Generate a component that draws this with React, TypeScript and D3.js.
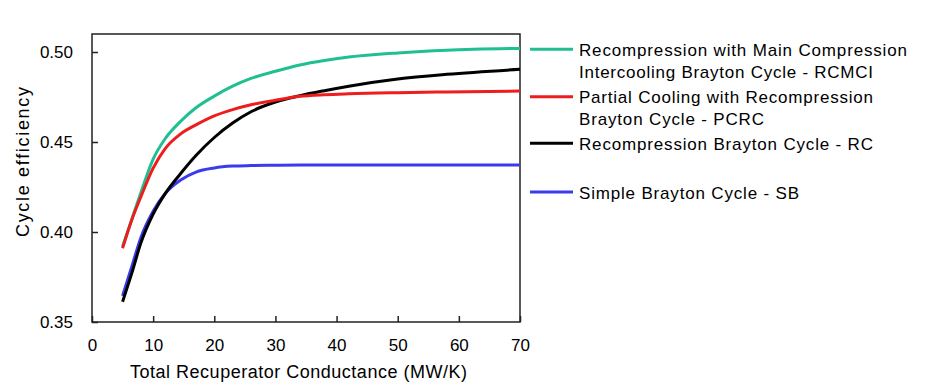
import React, { useRef, useEffect } from "react";
import * as d3 from "d3";

// conductance (MW/K) sample points
const conductance = [5, 6.5, 8, 10, 12, 14.5, 17, 20, 23, 26, 30, 34, 38, 42, 50, 58, 70];

const rcmci = [0.392, 0.407, 0.422, 0.4405, 0.452, 0.4615, 0.469, 0.4755, 0.481, 0.4853, 0.4893, 0.4928, 0.4953, 0.4972, 0.4995, 0.501, 0.502];
const pcrc = [0.391, 0.4067, 0.4196, 0.4355, 0.4465, 0.4545, 0.4595, 0.4645, 0.468, 0.4707, 0.4732, 0.4754, 0.4763, 0.4768, 0.4774, 0.4778, 0.4783];
const rc = [0.3613, 0.377, 0.394, 0.41, 0.4215, 0.4325, 0.4425, 0.4525, 0.4605, 0.4668, 0.4722, 0.4757, 0.4785, 0.481, 0.485, 0.4876, 0.4904];
const sb = [0.3645, 0.3807, 0.397, 0.4115, 0.4215, 0.4289, 0.4333, 0.4356, 0.4366, 0.4369, 0.4371, 0.4372, 0.4372, 0.4372, 0.4372, 0.4372, 0.4372];

const seriesNames = [
  ["Recompression with Main Compression", "Intercooling Brayton Cycle - RCMCI"],
  ["Partial Cooling with Recompression", "Brayton Cycle - PCRC"],
  ["Recompression Brayton Cycle - RC"],
  ["Simple Brayton Cycle - SB"],
];
const seriesValues = [rcmci, pcrc, rc, sb];
const seriesColors = ["#1fbf91", "#ee1c1c", "#000000", "#3b3bee"];

const xTicks = [0, 10, 20, 30, 40, 50, 60, 70];
const yTicks = [0.35, 0.4, 0.45, 0.5];

const App = () => {
  const ref = useRef<SVGSVGElement>(null);

  useEffect(() => {
    const svg = d3.select(ref.current);
    svg.selectAll("*").remove();

    const left = 92, right = 520, top = 34, bottom = 322;
    const x = d3.scaleLinear().domain([0, 70]).range([left, right]);
    const y = d3.scaleLinear().domain([0.35, 0.51]).range([bottom, top]);
    const font = "'Liberation Sans', Arial, sans-serif";

    // frame
    svg.append("rect")
      .attr("x", left).attr("y", top)
      .attr("width", right - left).attr("height", bottom - top)
      .attr("fill", "none").attr("stroke", "#222").attr("stroke-width", 1.5);

    // x axis ticks (inside)
    const xAxis = svg.append("g")
      .attr("transform", `translate(0,${bottom})`)
      .call(d3.axisBottom(x).tickValues(xTicks).tickSizeInner(-6).tickSizeOuter(0).tickPadding(17).tickFormat(d3.format("d")));
    xAxis.select(".domain").remove();
    xAxis.selectAll("line").attr("stroke", "#222").attr("stroke-width", 1.5);
    xAxis.selectAll("text").attr("font-family", font).attr("font-size", 17).attr("fill", "#000");

    const yAxis = svg.append("g")
      .attr("transform", `translate(${left},0)`)
      .call(d3.axisLeft(y).tickValues(yTicks).tickSizeInner(-6).tickSizeOuter(0).tickPadding(19).tickFormat(d3.format(".2f")));
    yAxis.select(".domain").remove();
    yAxis.selectAll("line").attr("stroke", "#222").attr("stroke-width", 1.5);
    yAxis.selectAll("text").attr("font-family", font).attr("font-size", 17).attr("fill", "#000");

    // curves
    const line = d3.line<number>()
      .x((_, i) => x(conductance[i]))
      .y((d) => y(d))
      .curve(d3.curveMonotoneX);

    const drawOrder = [0, 3, 2, 1];
    drawOrder.forEach((k) => {
      svg.append("path")
        .attr("d", line(seriesValues[k]))
        .attr("fill", "none")
        .attr("stroke", seriesColors[k])
        .attr("stroke-width", 3);
    });

    // axis titles
    svg.append("text")
      .attr("x", 130).attr("y", 378)
      .attr("font-family", font).attr("font-size", 18)
      .attr("textLength", 337).attr("lengthAdjust", "spacing")
      .text("Total Recuperator Conductance (MW/K)");

    svg.append("text")
      .attr("transform", "translate(29,237) rotate(-90)")
      .attr("font-family", font).attr("font-size", 18)
      .attr("textLength", 150).attr("lengthAdjust", "spacing")
      .text("Cycle efficiency");

    // legend
    const legendY = [49.3, 96.7, 143.3, 192];
    const widths = [[328, 294], [294, 185], [294], [220]];
    seriesNames.forEach((lines, k) => {
      svg.append("line")
        .attr("x1", 530).attr("x2", 573)
        .attr("y1", legendY[k]).attr("y2", legendY[k])
        .attr("stroke", seriesColors[k]).attr("stroke-width", 3);
      lines.forEach((t, j) => {
        svg.append("text")
          .attr("x", 579).attr("y", legendY[k] + 6.5 + j * 22)
          .attr("font-family", font).attr("font-size", 17)
          .attr("textLength", widths[k][j])
          .attr("lengthAdjust", "spacing")
          .text(t);
      });
    });
  }, []);

  return (
    <svg
      ref={ref}
      width={927}
      height={385}
      style={{ position: "absolute", left: 0, top: 0, background: "#fff" }}
    ></svg>
  );
};

export default App;
